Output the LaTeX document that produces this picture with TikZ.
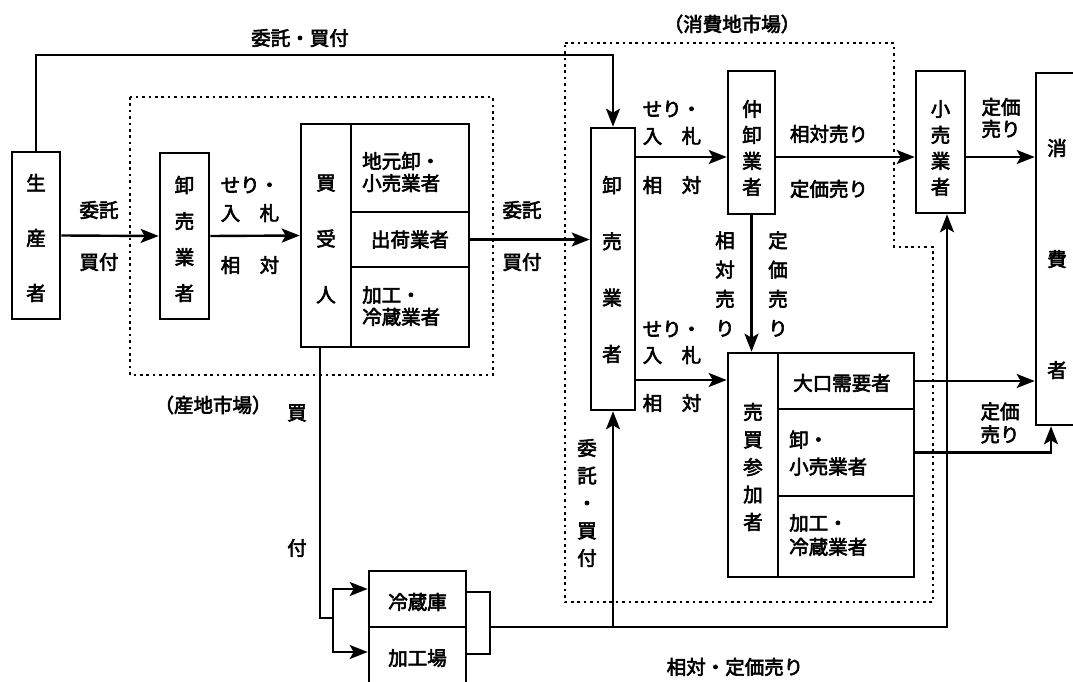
\documentclass[tikz,border=0pt]{standalone}
\usepackage{fontspec}
\newfontfamily\jp{Noto Sans CJK JP}[FakeBold=3]
\usetikzlibrary{arrows.meta}
\tikzset{
  box/.style={draw, line width=2.6pt, inner sep=0pt},
  ln/.style={line width=2.4pt},
  arr/.style={line width=2.4pt, -{Stealth[length=18pt,width=14pt,inset=4pt]}},
  dotline/.style={line width=2.8pt, dash pattern=on 2.6pt off 3.8pt},
  t/.style={font=\jp\fontsize{19.5}{22}\selectfont, inner sep=0pt},
  tc/.style={font=\jp\fontsize{19.5}{#1}\selectfont, align=center, inner sep=0pt},
  tl/.style={font=\jp\fontsize{19.5}{#1}\selectfont, align=left, inner sep=0pt, anchor=west},
}
\begin{document}
\begin{tikzpicture}[x=1pt,y=-1pt]
\useasboundingbox[fill=white] (0,0) rectangle (1073,682);
% markets (dotted)
\draw[dotline] (130,97) rectangle (493,375);
\draw[dotline] (565,43) -- (894,43) -- (894,247) -- (933,247) -- (933,602) -- (565,602) -- cycle;
% boxes
\node[box, minimum width=48pt, minimum height=167pt] (P) at (36,235.5) {};
\node[box, minimum width=49pt, minimum height=166pt] (WL) at (184.5,236) {};
\node[box, minimum width=50pt, minimum height=223pt] (KU) at (326,235.5) {};
\node[box, minimum width=118pt, minimum height=88pt] (S1) at (410,168) {};
\node[box, minimum width=118pt, minimum height=55pt] (S2) at (410,239.5) {};
\node[box, minimum width=118pt, minimum height=80pt] (S3) at (410,307) {};
\node[box, minimum width=44pt, minimum height=282pt] (WR) at (613,269) {};
\node[box, minimum width=47pt, minimum height=143pt] (NK) at (751.5,142.5) {};
\node[box, minimum width=49pt, minimum height=142pt] (KO) at (940.5,142) {};
\node[box, minimum width=54pt, minimum height=352pt] (SH) at (1063,249) {};
\node[box, minimum width=50pt, minimum height=224pt] (BB) at (753,465) {};
\node[box, minimum width=136pt, minimum height=56pt] (B1) at (846,381) {};
\node[box, minimum width=136pt, minimum height=87pt] (B2) at (846,452.5) {};
\node[box, minimum width=136pt, minimum height=81pt] (B3) at (846,536.5) {};
\node[box, minimum width=97pt, minimum height=56pt] (RZ) at (417.5,599) {};
\node[box, minimum width=97pt, minimum height=63pt] (KK) at (417.5,658.5) {};
% box texts
\node[tc=55] (tP) at (36,238) {生\\産\\者};
\node[tc=36] (tWL) at (184.5,239) {卸\\売\\業\\者};
\node[tc=56] (tKU) at (326,239) {買\\受\\人};
\node[tl=22] (tS1) at (362,172) {地元卸・\\小売業者};
\node[t] (tS2) at (410,239.5) {出荷業者};
\node[tl=22] (tS3) at (362,306) {加工・\\冷蔵業者};
\node[tc=56.3] (tWR) at (612,269.5) {卸\\売\\業\\者};
\node[tc=26] (tNK) at (752,148) {仲\\卸\\業\\者};
\node[tc=26] (tKO) at (940.5,148) {小\\売\\業\\者};
\node[tc=111] (tSH) at (1057,259) {消\\費\\者};
\node[tc=27.5] (tBB) at (753,467) {売\\買\\参\\加\\者};
\node[t] (tB1) at (842,383) {大口需要者};
\node[tl=27] (tB2) at (789,453) {卸・\\小売業者};
\node[tl=24] (tB3) at (789,535) {加工・\\冷蔵業者};
\node[t] (tRZ) at (417.5,602) {冷蔵庫};
\node[t] (tKK) at (417.5,658) {加工場};
% named levels
\coordinate (topy) at (0,55);
\coordinate (r1) at (0,157);
\coordinate (r2) at (0,380);
\coordinate (shx) at (1051,0);
\coordinate (kx) at (320,618);
\coordinate (split) at (333,618);
\coordinate (a1) at (0,589);
\coordinate (a2) at (0,652);
\coordinate (b1) at (0,592);
\coordinate (b2) at (0,654);
\coordinate (bx) at (490,627);
\coordinate (kox) at (947,627);
% connectors
\draw[arr] (P.north) -- (P.north |- topy) -- (WR.north |- topy) -- (WR.north);
\draw[arr] (P.east) -- (WL.west);
\draw[arr] (WL.east) -- (KU.west);
\draw[arr] (S2.east) -- (S2.east -| WR.west);
\draw[arr] (WR.east |- r1) -- (NK.west |- r1);
\draw[arr] (NK.east |- r1) -- (KO.west |- r1);
\draw[arr] (KO.east |- r1) -- (SH.west |- r1);
\draw[arr] (NK.south) -- (NK.south |- BB.north);
\draw[arr] (WR.east |- r2) -- (BB.west |- r2);
\draw[arr] (B1.east) -- (B1.east -| SH.west);
\draw[arr] (B2.east) -| (shx |- SH.south);
\draw[ln] (KU.south -| kx) -- (kx) -- (split);
\draw[arr] (split) |- (RZ.west |- a1);
\draw[arr] (split) |- (KK.west |- a2);
\draw[ln] (RZ.east |- b1) -| (bx |- b2) -- (KK.east |- b2);
\draw[arr] (bx) -- (kox) -- (kox |- KO.south);
\draw[arr] (WR.south |- bx) -- (WR.south);
% connector labels
\node[t] (l1) at (300,38) {委託・買付};
\node[t] (l2) at (99,210) {委託};
\node[t] (l3) at (99,262) {買付};
\node[t] (l4) at (250,185) {せり・};
\node[t] (l5) at (250,213) {入　札};
\node[t] (l6) at (250,265) {相　対};
\node[t] (l7) at (522,210) {委託};
\node[t] (l8) at (522,262) {買付};
\node[t] (l9) at (213,405) {（産地市場）};
\node[t] (l10) at (732,24) {（消費地市場）};
\node[t] (l11) at (672,109) {せり・};
\node[t] (l12) at (672,136) {入　札};
\node[t] (l13) at (672,185) {相　対};
\node[t] (l14) at (829,134) {相対売り};
\node[t] (l15) at (829,189) {定価売り};
\node[tc=22] (l16) at (1001,118) {定価\\売り};
\node[tc=29.3] (l17) at (725,284) {相\\対\\売\\り};
\node[tc=29.3] (l18) at (778,284) {定\\価\\売\\り};
\node[t] (l19) at (672,329) {せり・};
\node[t] (l20) at (672,355) {入　札};
\node[t] (l21) at (672,403) {相　対};
\node[tc=27.5] (l22) at (587,503) {委\\託\\・\\買\\付};
\node[tc=23] (l23) at (1000,423) {定価\\売り};
\node[t] (l24) at (297,413) {買};
\node[t] (l25) at (297,548) {付};
\node[t] (l26) at (735,667) {相対・定価売り};
\end{tikzpicture}
\end{document}
